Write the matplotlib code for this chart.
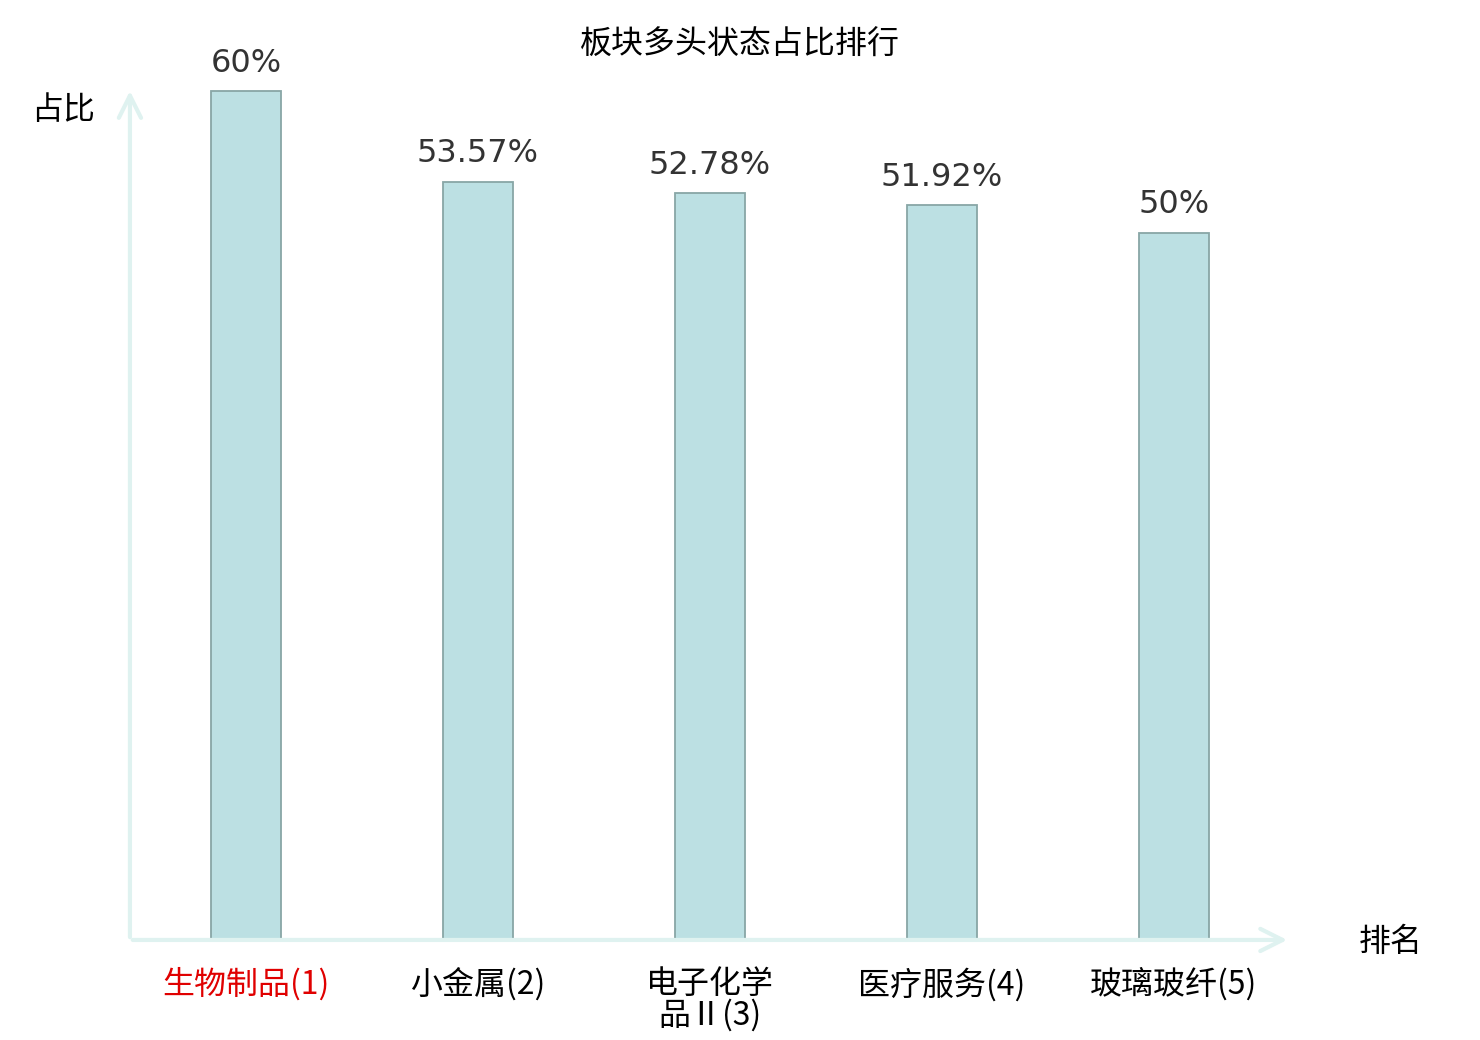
import matplotlib.pyplot as plt

plt.rcParams['font.family'] = ['Noto Sans CJK SC', 'DejaVu Sans']

# data
sectors = ['生物制品(1)', '小金属(2)', '电子化学\n品Ⅱ(3)', '医疗服务(4)', '玻璃玻纤(5)']
ratios = [60, 53.57, 52.78, 51.92, 50]
ratio_labels = ['60%', '53.57%', '52.78%', '51.92%', '50%']

axis_color = '#dff2f0'

fig = plt.figure(figsize=(14.8, 10.4), dpi=100)
ax = fig.add_axes([0.0878, 0.0962, 0.7838, 0.819])

x = list(range(len(sectors)))
bars = ax.bar(x, ratios, width=0.3, color='#bce0e3', edgecolor='#88a6a6', linewidth=1.3)

for b, lab in zip(bars, ratio_labels):
    ax.annotate(lab, (b.get_x() + b.get_width() / 2, b.get_height()),
                xytext=(0, 9), textcoords='offset points', ha='center', va='bottom',
                fontsize=23, color='#333333', family='DejaVu Sans')

ax.set_xlim(-0.5, 4.5)
ax.set_ylim(0, 60.2)

for s in ax.spines.values():
    s.set_visible(False)
ax.set_yticks([])
ax.set_xticks(x)
ax.set_xticklabels(sectors, fontsize=23, linespacing=0.95)
ax.tick_params(axis='x', length=0, pad=20)
ax.get_xticklabels()[0].set_color('#e00000')

# axis arrows
arrow = dict(arrowstyle='->,head_length=1.6,head_width=0.8', color=axis_color, lw=3)
ax.annotate('', xy=(1.0, 0), xytext=(0, 0), xycoords='axes fraction', arrowprops=arrow)
ax.annotate('', xy=(0, 1.0), xytext=(0, 0), xycoords='axes fraction', arrowprops=arrow)

fig.text(0.0425, 0.894, '占比', fontsize=23, ha='center', va='center')
fig.text(0.9395, 0.094, '排名', fontsize=23, ha='center', va='center')
fig.text(0.5, 0.957, '板块多头状态占比排行', fontsize=23, ha='center', va='center')

fig.savefig('out.png')
